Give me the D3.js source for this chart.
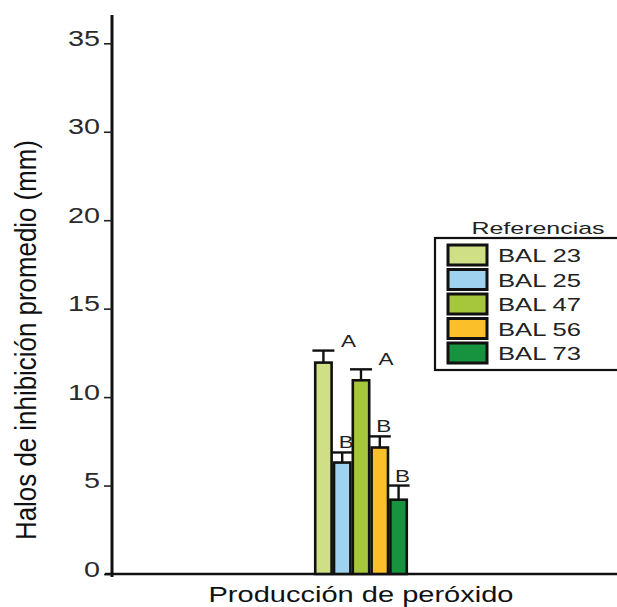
<!DOCTYPE html>
<html><head><meta charset="utf-8">
<script src="https://cdn.jsdelivr.net/npm/d3@7/dist/d3.min.js"></script>
<style>body{margin:0;background:#fff;}svg{display:block;font-family:"Liberation Sans",Arial,sans-serif;}</style>
</head><body>
<svg id="c" width="617" height="607"></svg>
<script>
const categories = ["Producción de peróxido"];
const series = ["BAL 23","BAL 25","BAL 47","BAL 56","BAL 73"];
const values = [11.95, 6.3, 10.95, 7.15, 4.2];
const errors = [0.68, 0.57, 0.62, 0.63, 0.8];
const letters = ["A","B","A","B","B"];
const colors = ["#cfdf86","#9fd2ee","#a6c73c","#fbbf2a","#17923f"];
const tickValues = [0,5,10,15,20,25,30];
const tickLabels = ["0","5","10","15","20","30","35"];

const svg = d3.select("#c");
const y = d3.scaleLinear().domain([0,31.6]).range([574,15]);
const x0 = d3.scaleBand().domain(categories).range([112,610]).paddingOuter(2.15).paddingInner(0);
const x1 = d3.scaleBand().domain(series).range([0,x0.bandwidth()]);
const color = d3.scaleOrdinal().domain(series).range(colors);

// axes
const yAxis = d3.axisLeft(y).tickValues(tickValues).tickFormat((d,i)=>tickLabels[i]).tickSize(9).tickPadding(3);
const gy = svg.append("g").attr("transform","translate(112,0)").call(yAxis);
gy.select(".domain").attr("d","M0,15V577").attr("stroke","#111").attr("stroke-width",3);
gy.selectAll(".tick line").attr("stroke","#222").attr("stroke-width",1.6).attr("x2",-8);
gy.selectAll(".tick text").attr("font-size",22).attr("fill","#2a2a2a").attr("dy","0.1em")
  .attr("textLength",(d,i)=>tickLabels[i].length*16).attr("lengthAdjust","spacingAndGlyphs");

svg.append("line").attr("x1",105).attr("x2",617).attr("y1",y(0)).attr("y2",y(0)).attr("stroke","#111").attr("stroke-width",2.5);

// bars
const g = svg.append("g").attr("transform",`translate(${x0(categories[0])},0)`);
const data = series.map((s,i)=>({s,v:values[i],e:errors[i],l:letters[i]}));
g.selectAll("rect.bar").data(data).enter().append("rect").attr("class","bar")
  .attr("x",d=>x1(d.s)+1.2).attr("width",x1.bandwidth()-2.4)
  .attr("y",d=>y(d.v)).attr("height",d=>y(0)-y(d.v))
  .attr("fill",d=>color(d.s)).attr("stroke","#111").attr("stroke-width",2.6);
// error bars
const eb = g.selectAll("g.err").data(data).enter().append("g").attr("class","err");
eb.append("line").attr("x1",d=>x1(d.s)+x1.bandwidth()/2).attr("x2",d=>x1(d.s)+x1.bandwidth()/2)
  .attr("y1",d=>y(d.v)).attr("y2",d=>y(d.v+d.e)).attr("stroke","#111").attr("stroke-width",2.4);
eb.append("line").attr("x1",d=>x1(d.s)+x1.bandwidth()/2-11).attr("x2",d=>x1(d.s)+x1.bandwidth()/2+11)
  .attr("y1",d=>y(d.v+d.e)).attr("y2",d=>y(d.v+d.e)).attr("stroke","#111").attr("stroke-width",2.4);
eb.append("text").attr("x",d=>x1(d.s)+x1.bandwidth()/2+(d.l==="A"?25:4))
  .attr("y",d=>y(d.v+d.e)-4).attr("text-anchor","middle").attr("font-size",17).attr("fill","#222")
  .attr("textLength",15).attr("lengthAdjust","spacingAndGlyphs").text(d=>d.l);

// axis titles
svg.append("text").attr("x",361).attr("y",602).attr("text-anchor","middle").attr("font-size",22).attr("fill","#111")
  .attr("textLength",305).attr("lengthAdjust","spacingAndGlyphs").text(categories[0]);
svg.append("text").attr("transform","translate(36,340) rotate(-90)").attr("text-anchor","middle")
  .attr("font-size",30).attr("fill","#111").attr("textLength",400).attr("lengthAdjust","spacingAndGlyphs")
  .text("Halos de inhibición promedio (mm)");

// legend
svg.append("text").attr("x",538).attr("y",234).attr("text-anchor","middle").attr("font-size",17).attr("fill","#222")
  .attr("textLength",133).attr("lengthAdjust","spacingAndGlyphs").text("Referencias");
svg.append("rect").attr("x",435).attr("y",238).attr("width",200).attr("height",132).attr("fill","none").attr("stroke","#111").attr("stroke-width",2.2);
const lg = svg.selectAll("g.lg").data(series).enter().append("g").attr("class","lg")
  .attr("transform",(d,i)=>`translate(448,${245+i*24.5})`);
lg.append("rect").attr("width",39).attr("height",20).attr("fill",d=>color(d)).attr("stroke","#111").attr("stroke-width",3);
lg.append("text").attr("x",50).attr("y",17).attr("font-size",18).attr("fill","#222")
  .attr("textLength",83).attr("lengthAdjust","spacingAndGlyphs").text(d=>d);
</script>
</body></html>
